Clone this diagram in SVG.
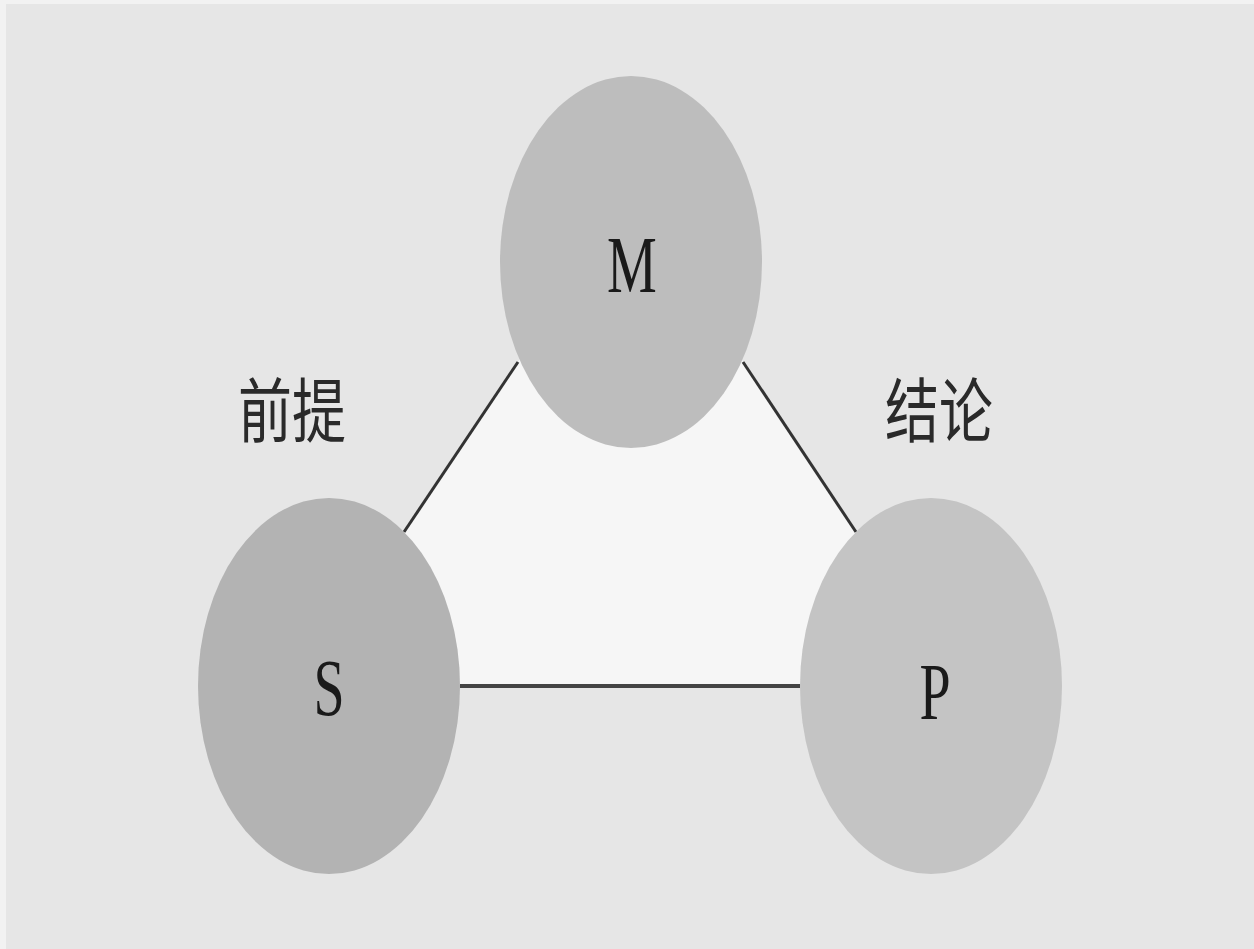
<svg xmlns="http://www.w3.org/2000/svg" width="1254" height="949" viewBox="0 0 1254 949">
<style>
.node text{font-family:"Liberation Serif","Times New Roman",serif;font-size:56px;fill:#1a1a1a;text-anchor:middle}
.lbl{font-family:"Noto Sans CJK SC","Noto Sans CJK TC",sans-serif;font-size:54px;fill:#2a2a2a;text-anchor:middle}
.conn line{stroke:#333;stroke-width:3}
</style>
<rect x="0" y="0" width="1254" height="949" fill="#f2f2f2"/>
<rect x="6" y="4" width="1248" height="945" fill="#e6e6e6"/>
<polygon points="631,193 301,686 959,686" fill="#f6f6f6"/>
<g id="connectors" class="conn">
<line x1="404" y1="532" x2="518" y2="362"/>
<line x1="743" y1="362" x2="856" y2="532"/>
<line x1="460" y1="686" x2="800" y2="686" style="stroke:#444;stroke-width:4"/>
</g>
<g id="node-M" class="node">
<ellipse cx="631" cy="262" rx="131" ry="186" fill="#bdbdbd"/>
<text transform="translate(632,292) scale(1,1.45)">M</text>
</g>
<g id="node-S" class="node">
<ellipse cx="329" cy="686" rx="131" ry="188" fill="#b3b3b3"/>
<text transform="translate(329,715) scale(1,1.45)">S</text>
</g>
<g id="node-P" class="node">
<ellipse cx="931" cy="686" rx="131" ry="188" fill="#c4c4c4"/>
<text transform="translate(935,719) scale(1,1.45)">P</text>
</g>
<g id="label-premise">
<text class="lbl" transform="translate(292,437) scale(1,1.3)">前提</text>
</g>
<g id="label-conclusion">
<text class="lbl" transform="translate(939,437) scale(1,1.3)">结论</text>
</g>
</svg>
